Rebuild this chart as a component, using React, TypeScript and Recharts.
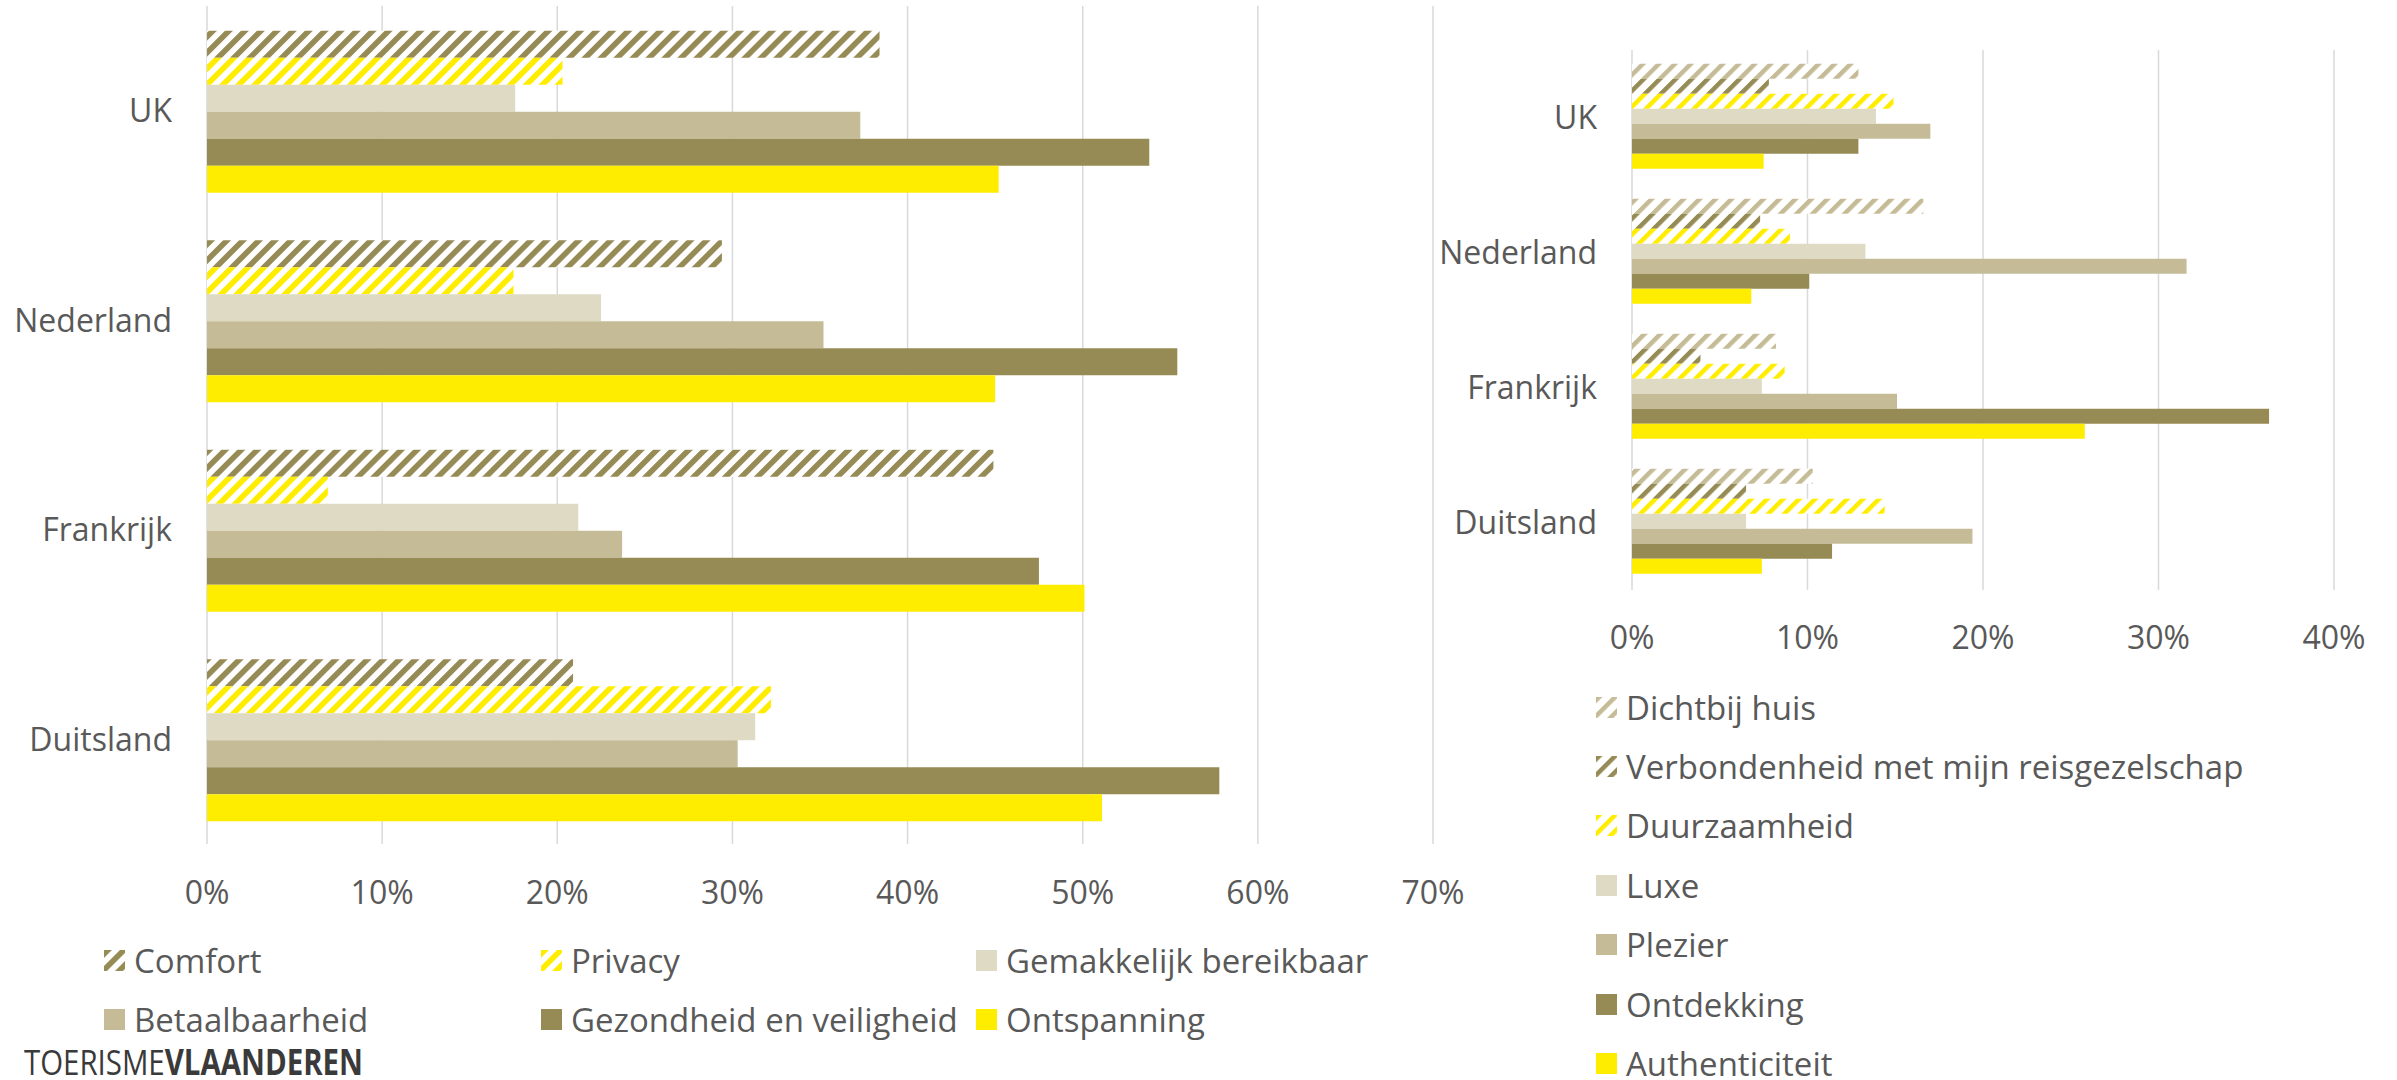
import React from 'react';
import { BarChart, Bar, XAxis, YAxis, CartesianGrid } from 'recharts';

const FONT = '"Open Sans", sans-serif';
const TEXT = '#595959';
const GRID = '#D9D9D9';
const OLIVE = '#968A55';
const BEIGE = '#C5BC97';
const LIGHT = '#DEDAC4';
const YELLOW = '#FFED00';

// landen (categorieën)
const landen = ['UK', 'Nederland', 'Frankrijk', 'Duitsland'];

// linker grafiek (%)
const comfort = [38.4, 29.4, 44.9, 20.9];
const privacy = [20.3, 17.5, 6.9, 32.2];
const gemakkelijk = [17.6, 22.5, 21.2, 31.3];
const betaalbaarheid = [37.3, 35.2, 23.7, 30.3];
const gezondheid = [53.8, 55.4, 47.5, 57.8];
const ontspanning = [45.2, 45.0, 50.1, 51.1];
const leftTicks = [0, 10, 20, 30, 40, 50, 60, 70];

// rechter grafiek (%)
const dichtbij = [12.9, 16.6, 8.2, 10.3];
const verbondenheid = [7.8, 7.3, 3.9, 6.5];
const duurzaamheid = [14.9, 9.0, 8.7, 14.4];
const luxe = [13.9, 13.3, 7.4, 6.5];
const plezier = [17.0, 31.6, 15.1, 19.4];
const ontdekking = [12.9, 10.1, 36.3, 11.4];
const authenticiteit = [7.5, 6.8, 25.8, 7.4];
const rightTicks = [0, 10, 20, 30, 40];

type Serie = { key: string; name: string; color: string; hatch: boolean; values: number[] };

const leftSeries: Serie[] = [
  { key: 'comfort', name: 'Comfort', color: OLIVE, hatch: true, values: comfort },
  { key: 'privacy', name: 'Privacy', color: YELLOW, hatch: true, values: privacy },
  { key: 'gemakkelijk', name: 'Gemakkelijk bereikbaar', color: LIGHT, hatch: false, values: gemakkelijk },
  { key: 'betaalbaarheid', name: 'Betaalbaarheid', color: BEIGE, hatch: false, values: betaalbaarheid },
  { key: 'gezondheid', name: 'Gezondheid en veiligheid', color: OLIVE, hatch: false, values: gezondheid },
  { key: 'ontspanning', name: 'Ontspanning', color: YELLOW, hatch: false, values: ontspanning },
];

const rightSeries: Serie[] = [
  { key: 'dichtbij', name: 'Dichtbij huis', color: BEIGE, hatch: true, values: dichtbij },
  { key: 'verbondenheid', name: 'Verbondenheid met mijn reisgezelschap', color: OLIVE, hatch: true, values: verbondenheid },
  { key: 'duurzaamheid', name: 'Duurzaamheid', color: YELLOW, hatch: true, values: duurzaamheid },
  { key: 'luxe', name: 'Luxe', color: LIGHT, hatch: false, values: luxe },
  { key: 'plezier', name: 'Plezier', color: BEIGE, hatch: false, values: plezier },
  { key: 'ontdekking', name: 'Ontdekking', color: OLIVE, hatch: false, values: ontdekking },
  { key: 'authenticiteit', name: 'Authenticiteit', color: YELLOW, hatch: false, values: authenticiteit },
];

const toRows = (series: Serie[]) =>
  landen.map((land, i) => {
    const row: Record<string, any> = { land };
    series.forEach((s) => (row[s.key] = s.values[i]));
    return row;
  });

const leftData = toRows(leftSeries);
const rightData = toRows(rightSeries);

// diagonale arcering "/"
const Hatch = ({ id, color, stripe }: { id: string; color: string; stripe: number }) => (
  <pattern id={id} patternUnits="userSpaceOnUse" width={11.3} height={11.3} patternTransform="rotate(45)">
    <rect width={11.3} height={11.3} fill="#fff" />
    <rect width={stripe} height={11.3} fill={color} />
  </pattern>
);

const tickStyle = { fill: TEXT, fontSize: 32, fontFamily: FONT };

const Swatch = ({ s, prefix, stripe }: { s: Serie; prefix: string; stripe: number }) => (
  <svg width={21} height={21} style={{ flex: 'none' }}>
    {s.hatch && (
      <defs>
        <Hatch id={`${prefix}-${s.key}`} color={s.color} stripe={stripe} />
      </defs>
    )}
    <rect width={21} height={21} fill={s.hatch ? `url(#${prefix}-${s.key})` : s.color} />
  </svg>
);

const LegendItem = ({ s, left, top, prefix, stripe }: any) => (
  <div
    style={{
      position: 'absolute',
      left,
      top: top - 21,
      height: 42,
      display: 'flex',
      alignItems: 'center',
      gap: 9,
      fontFamily: FONT,
      fontSize: 33,
      color: TEXT,
      whiteSpace: 'nowrap',
    }}
  >
    <Swatch s={s} prefix={prefix} stripe={stripe} />
    <span>{s.name}</span>
  </div>
);

const leftCols = [104, 541, 976];
const leftRows = [960, 1019];

export default function App() {
  return (
    <div style={{ position: 'absolute', left: 0, top: 0, width: 2397, height: 1080, background: '#fff', overflow: 'hidden' }}>
      {/* linker grafiek */}
      <div style={{ position: 'absolute', left: 0, top: 0 }}>
        <BarChart
          layout="vertical"
          width={1500}
          height={940}
          data={leftData}
          margin={{ top: 6, right: 67, bottom: 0, left: 0 }}
          barGap={0}
          barCategoryGap={24.75}
        >
          <defs>
            {leftSeries.filter((s) => s.hatch).map((s) => (
              <Hatch key={s.key} id={`l-${s.key}`} color={s.color} stripe={5.6} />
            ))}
          </defs>
          <CartesianGrid horizontal={false} stroke={GRID} strokeWidth={1.5} />
          <XAxis
            type="number"
            domain={[0, 70]}
            ticks={leftTicks}
            interval={0}
            tickFormatter={(v) => `${v}%`}
            axisLine={false}
            tickLine={false}
            tickSize={0}
            tickMargin={37}
            height={96}
            tick={tickStyle}
          />
          <YAxis
            type="category"
            dataKey="land"
            width={207}
            axisLine={false}
            tickLine={false}
            tickSize={0}
            tickMargin={35}
            tick={tickStyle}
          />
          {leftSeries.map((s) => (
            <Bar
              key={s.key}
              dataKey={s.key}
              name={s.name}
              fill={s.hatch ? `url(#l-${s.key})` : s.color}
              isAnimationActive={false}
            />
          ))}
        </BarChart>
      </div>

      {/* rechter grafiek */}
      <div style={{ position: 'absolute', left: 1400, top: 0 }}>
        <BarChart
          layout="vertical"
          width={997}
          height={700}
          data={rightData}
          margin={{ top: 50, right: 63, bottom: 0, left: 0 }}
          barGap={0}
          barCategoryGap={13.85}
        >
          <defs>
            {rightSeries.filter((s) => s.hatch).map((s) => (
              <Hatch key={s.key} id={`r-${s.key}`} color={s.color} stripe={4.5} />
            ))}
          </defs>
          <CartesianGrid horizontal={false} stroke={GRID} strokeWidth={1.5} />
          <XAxis
            type="number"
            domain={[0, 40]}
            ticks={rightTicks}
            interval={0}
            tickFormatter={(v) => `${v}%`}
            axisLine={false}
            tickLine={false}
            tickSize={0}
            tickMargin={36}
            height={110}
            tick={tickStyle}
          />
          <YAxis
            type="category"
            dataKey="land"
            width={232}
            axisLine={false}
            tickLine={false}
            tickSize={0}
            tickMargin={35}
            tick={tickStyle}
          />
          {rightSeries.map((s) => (
            <Bar
              key={s.key}
              dataKey={s.key}
              name={s.name}
              fill={s.hatch ? `url(#r-${s.key})` : s.color}
              isAnimationActive={false}
            />
          ))}
        </BarChart>
      </div>

      {/* legenda links */}
      {leftSeries.map((s, i) => (
        <LegendItem
          key={s.key}
          s={s}
          left={leftCols[i % 3]}
          top={leftRows[Math.floor(i / 3)]}
          prefix="lg"
          stripe={5.6}
        />
      ))}

      {/* legenda rechts */}
      {rightSeries.map((s, i) => (
        <LegendItem key={s.key} s={s} left={1596} top={707 + i * 59.4} prefix="rg" stripe={4.5} />
      ))}

      {/* logo */}
      <svg style={{ position: 'absolute', left: 24, top: 1044 }} width={345} height={36}>
        <text x={0} y={31} fontFamily={FONT} fontSize={35} fill="#3a3a3a" textLength={339} lengthAdjust="spacingAndGlyphs">
          <tspan>TOERISME</tspan>
          <tspan fontWeight={700}>VLAANDEREN</tspan>
        </text>
      </svg>
    </div>
  );
}
